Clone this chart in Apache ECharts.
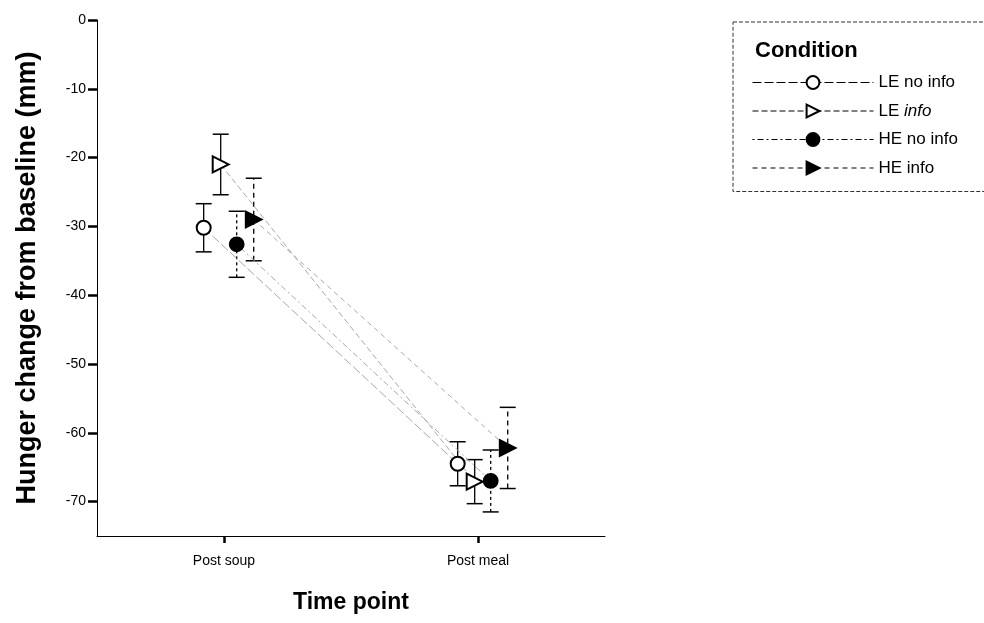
<!DOCTYPE html>
<html>
<head>
<meta charset="utf-8">
<script src="https://cdn.jsdelivr.net/npm/echarts@6/dist/echarts.min.js"></script>
<style>
  html, body { margin: 0; padding: 0; background: #fff; }
  #chart { width: 984px; height: 623px; }
</style>
</head>
<body>
<div id="chart"></div>
<script>
// time points on the x axis (positions 1 and 2)
const timePoints = ["Post soup", "Post meal"];
const conditions = ["LE no info", "LE info", "HE no info", "HE info"];

// mean hunger change (mm) at [Post soup, Post meal]
const meanLeNoInfo = [-30.2, -64.5];
const meanLeInfo = [-21.0, -67.1];
const meanHeNoInfo = [-32.6, -67.0];
const meanHeInfo = [-29.0, -62.2];

// error bar half-width (mm) at [Post soup, Post meal]
const errLeNoInfo = [3.5, 3.2];
const errLeInfo = [4.4, 3.2];
const errHeNoInfo = [4.8, 4.5];
const errHeInfo = [6.0, 5.9];

const yTicks = [0, -10, -20, -30, -40, -50, -60, -70];

// style bits
const dodge = [-0.08, -0.013, 0.05, 0.117];
const symbols = ["emptyCircle", "emptyTriangle", "circle", "triangle"];
const symbolRot = [0, -90, 0, -90];
const connectDash = [[9, 3], [6, 3], [2, 3, 6, 3], [5, 4]];
const barDash = ["solid", "solid", [3, 3], [5, 4]];
const means = [meanLeNoInfo, meanLeInfo, meanHeNoInfo, meanHeInfo];
const errs = [errLeNoInfo, errLeInfo, errHeNoInfo, errHeInfo];

const chart = echarts.init(document.getElementById("chart"), null, { renderer: "canvas" });

const series = [];
conditions.forEach((name, i) => {
  const pts = timePoints.map((t, k) => [k + 1 + dodge[i], means[i][k]]);
  const bars = timePoints.map((t, k) => [k + 1 + dodge[i], means[i][k] - errs[i][k], means[i][k] + errs[i][k]]);
  // error bars
  series.push({
    type: "custom",
    name: name + " err",
    z: 2,
    silent: true,
    data: bars,
    encode: { x: 0, y: [1, 2] },
    renderItem: (params, api) => {
      const lo = api.coord([api.value(0), api.value(1)]);
      const hi = api.coord([api.value(0), api.value(2)]);
      const cap = 8;
      const style = { stroke: "#000", lineWidth: 1.3, lineDash: barDash[i] === "solid" ? null : barDash[i] };
      return {
        type: "group",
        children: [
          { type: "line", shape: { x1: lo[0], y1: lo[1], x2: hi[0], y2: hi[1] }, style },
          { type: "line", shape: { x1: lo[0] - cap, y1: lo[1], x2: lo[0] + cap, y2: lo[1] }, style: { stroke: "#000", lineWidth: 1.5 } },
          { type: "line", shape: { x1: hi[0] - cap, y1: hi[1], x2: hi[0] + cap, y2: hi[1] }, style: { stroke: "#000", lineWidth: 1.5 } }
        ]
      };
    }
  });
  // means + connecting line
  series.push({
    type: "line",
    name: name,
    z: 3,
    data: pts,
    symbol: symbols[i],
    symbolSize: i % 2 === 0 ? 14 : 16,
    symbolRotate: symbolRot[i],
    showAllSymbol: true,
    lineStyle: { color: "#a8a8a8", width: 1, type: connectDash[i] },
    itemStyle: { color: "#000", borderColor: "#000", borderWidth: 1.8 }
  });
});

const option = {
  animation: false,
  backgroundColor: "#fff",
  title: {
    text: "Condition",
    left: 755,
    top: 40,
    padding: 0,
    textStyle: { fontFamily: "Liberation Sans", fontSize: 22, fontWeight: "bold", color: "#000" }
  },
  legend: {
    data: conditions,
    orient: "vertical",
    left: 733,
    top: 22,
    padding: [52, 60, 15, 19],
    itemWidth: 121,
    itemHeight: 16,
    itemGap: 11.5,
    borderColor: "#333",
    borderWidth: 1,
    borderType: [4, 2],
    lineStyle: { color: "#000", width: 1 },
    textStyle: {
      fontFamily: "Liberation Sans", fontSize: 17, color: "#000",
      rich: { i: { fontFamily: "Liberation Sans", fontSize: 17, fontStyle: "italic", color: "#000" } }
    },
    formatter: (n) => n === "LE info" ? "LE {i|info}" : n,
    selectedMode: false
  },
  grid: { left: 97, right: 379, top: 20, bottom: 87 },
  xAxis: {
    type: "value",
    min: 0.5,
    max: 2.5,
    name: "Time point",
    nameLocation: "middle",
    nameGap: 55,
    nameTextStyle: { fontFamily: "Liberation Sans", fontSize: 23, fontWeight: "bold", color: "#000" },
    axisLine: { show: true, onZero: false, lineStyle: { color: "#000", width: 1 } },
    axisTick: { show: true, inside: false, length: 7, customValues: [1, 2], lineStyle: { color: "#000", width: 2.5 } },
    axisLabel: {
      customValues: [1, 2],
      margin: 18,
      formatter: (v) => timePoints[Math.round(v) - 1] || "",
      fontFamily: "Liberation Sans", fontSize: 14, color: "#000"
    },
    splitLine: { show: false }
  },
  yAxis: {
    type: "value",
    min: -75,
    max: 0,
    name: "Hunger change from baseline (mm)",
    nameLocation: "middle",
    nameGap: 56,
    nameTextStyle: { fontFamily: "Liberation Sans", fontSize: 27, fontWeight: "bold", color: "#000" },
    axisLine: { show: true, onZero: false, lineStyle: { color: "#000", width: 1 } },
    axisTick: { show: true, length: 9, customValues: yTicks, lineStyle: { color: "#000", width: 2.5 } },
    axisLabel: {
      customValues: yTicks,
      margin: 11,
      fontFamily: "Liberation Sans", fontSize: 14, color: "#000"
    },
    splitLine: { show: false }
  },
  series: series
};

chart.setOption(option);
</script>
</body>
</html>
